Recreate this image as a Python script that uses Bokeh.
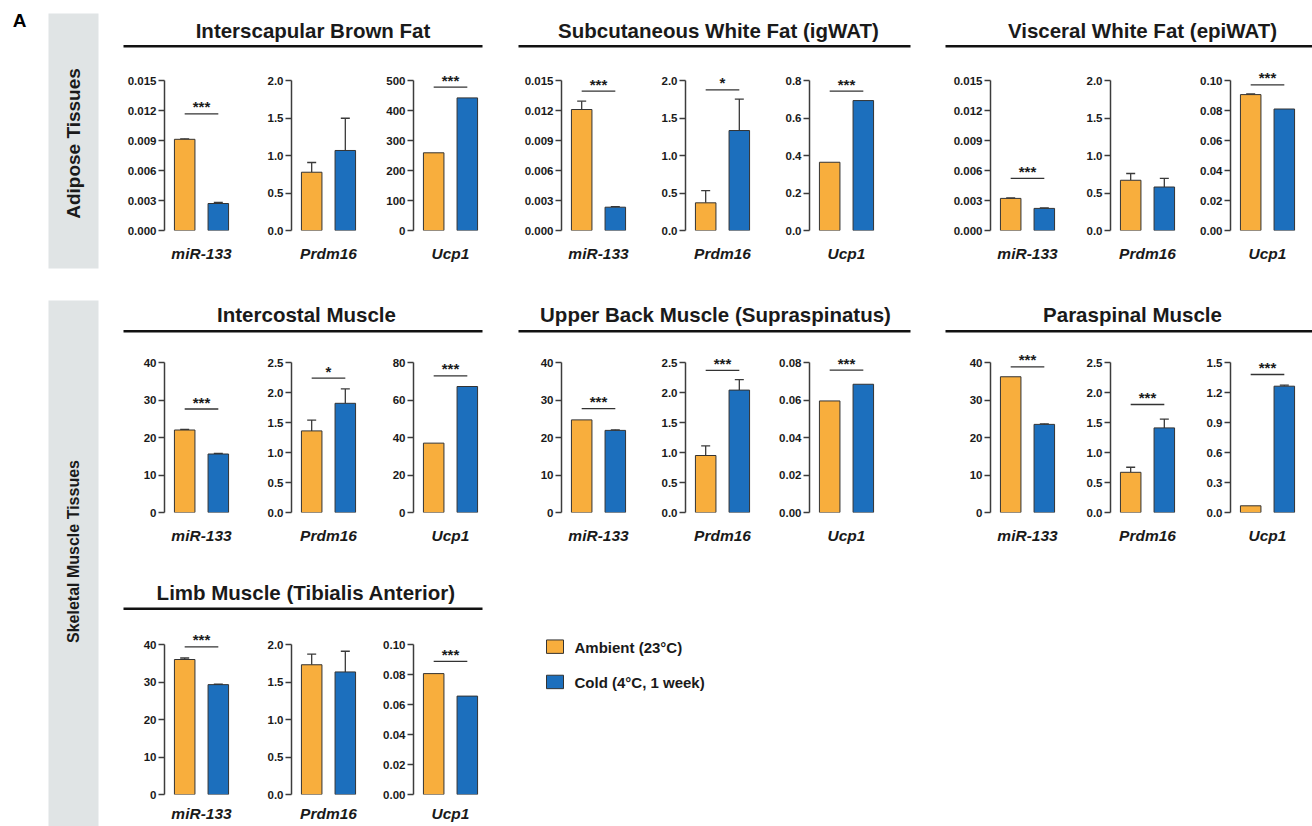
import math
from bokeh.plotting import figure
from bokeh.layouts import row, column
from bokeh.models import Range1d, FixedTicker, PrintfTickFormatter, ColumnDataSource, Whisker, TeeHead
from bokeh.core.properties import value
from bokeh.embed import file_html
from bokeh.resources import INLINE

# ---------------- data ----------------
TISSUES = [
    "Interscapular Brown Fat",
    "Subcutaneous White Fat (igWAT)",
    "Visceral White Fat (epiWAT)",
    "Intercostal Muscle",
    "Upper Back Muscle (Supraspinatus)",
    "Paraspinal Muscle",
    "Limb Muscle (Tibialis Anterior)",
]
GENES = ["miR-133", "Prdm16", "Ucp1"]
SECTIONS = ["Adipose Tissues", "Skeletal Muscle Tissues"]
LEGEND_LABELS = ["Ambient (23°C)", "Cold (4°C, 1 week)"]

AMBIENT_MEAN = [
    [0.00912, 0.777, 259],
    [0.0121, 0.369, 0.364],
    [0.00321, 0.67, 0.0906],
    [22.0, 1.36, 37.0],
    [24.7, 0.95, 0.0595],
    [36.2, 0.67, 0.067],
    [36.0, 1.73, 0.0806],
]
COLD_MEAN = [
    [0.0027, 1.067, 442],
    [0.00233, 1.333, 0.693],
    [0.00221, 0.58, 0.081],
    [15.6, 1.82, 67.2],
    [21.9, 2.04, 0.0684],
    [23.5, 1.41, 1.263],
    [29.3, 1.634, 0.0656],
]
AMBIENT_SEM = [
    [0.00005, 0.13, 0],
    [0.00083, 0.164, 0],
    [0.00004, 0.09, 0.0004],
    [0.15, 0.18, 0],
    [0, 0.16, 0],
    [0, 0.084, 0],
    [0.4, 0.143, 0],
]
COLD_SEM = [
    [0.00012, 0.43, 0],
    [0.00005, 0.42, 0],
    [0.00005, 0.116, 0],
    [0.15, 0.24, 0],
    [0.15, 0.176, 0],
    [0.15, 0.147, 0.01],
    [0.1, 0.276, 0],
]
SIG_Y = [
    [0.01166, None, 478],
    [0.01393, 1.876, 0.743],
    [0.00522, None, 0.0971],
    [27.6, 2.24, 72.9],
    [27.7, 2.37, 0.0759],
    [38.85, 1.80, 1.38],
    [39.35, None, 0.0888],
]
SIG_STARS = [
    ["***", "", "***"],
    ["***", "*", "***"],
    ["***", "", "***"],
    ["***", "*", "***"],
    ["***", "***", "***"],
    ["***", "***", "***"],
    ["***", "", "***"],
]
Y_MAX = [[0.015, 2.0, 500], [0.015, 2.0, 0.8], [0.015, 2.0, 0.10],
         [40, 2.5, 80], [40, 2.5, 0.08], [40, 2.5, 1.5], [40, 2.0, 0.10]]
Y_STEP = [[0.003, 0.5, 100], [0.003, 0.5, 0.2], [0.003, 0.5, 0.02],
          [10, 0.5, 20], [10, 0.5, 0.02], [10, 0.5, 0.3], [10, 0.5, 0.02]]
Y_DECIMALS = [[3, 1, 0], [3, 1, 1], [3, 1, 2],
              [0, 1, 0], [0, 1, 2], [0, 1, 1], [0, 1, 2]]

# ---------------- style / layout ----------------
FONT = "Liberation Sans"
ORANGE = "#F8AE3D"
BLUE = "#1C6FBD"
BAND = "#E0E4E5"
INK = "#1a1a1a"
AXIS = "#3c3c3c"

FRAME_W, FRAME_H = 74, 168
LEFT_B = 46
COL_LEFTS = [118, 245, 367, 515, 639, 763, 944, 1064, 1184]   # page px
RIGHT_EDGE = 1312
PAGE_H = 826


def common(p):
    p.xgrid.visible = False
    p.ygrid.visible = False
    p.outline_line_color = None
    p.background_fill_color = "white"
    p.border_fill_color = "white"


def subplot(g, k, width, bottom_border, standoff):
    top = Y_MAX[g][k]
    step = Y_STEP[g][k]
    p = figure(frame_width=FRAME_W, frame_height=FRAME_H,
               min_border_left=LEFT_B, min_border_right=width - LEFT_B - FRAME_W,
               min_border_top=0, min_border_bottom=bottom_border,
               x_range=Range1d(0.4, 2.6), y_range=Range1d(0, top * 1.12),
               output_backend="svg", toolbar_location=None, tools="")
    common(p)
    src = ColumnDataSource(dict(x=[1, 2], top=[AMBIENT_MEAN[g][k], COLD_MEAN[g][k]],
                                color=[ORANGE, BLUE]))
    p.vbar(x="x", top="top", bottom=0, width=0.61, fill_color="color",
           line_color="#333333", line_width=1, source=src)

    xs, lo, hi = [], [], []
    for x, m, e in ((1, AMBIENT_MEAN[g][k], AMBIENT_SEM[g][k]),
                    (2, COLD_MEAN[g][k], COLD_SEM[g][k])):
        if e > 0:
            xs.append(x); lo.append(m); hi.append(m + e)
    if xs:
        es = ColumnDataSource(dict(base=xs, lower=lo, upper=hi))
        w = Whisker(source=es, base="base", lower="lower", upper="upper",
                    dimension="height", line_color="#3a3a3a", line_width=1.3,
                    upper_head=TeeHead(size=9, line_color="#3a3a3a", line_width=1.3),
                    lower_head=None, level="underlay")
        p.add_layout(w)

    sy = SIG_Y[g][k]
    if sy is not None:
        p.segment(x0=[1], y0=[sy], x1=[2], y1=[sy], line_color="#333333", line_width=1.3)
        p.text(x=[1.5], y=[sy], text=[SIG_STARS[g][k]], text_align="center",
               text_baseline="middle", y_offset=-7, text_font=value(FONT),
               text_font_size="15px", text_font_style="bold", text_color=INK)

    yax = p.yaxis[0]
    n = int(round(top / step))
    yax.ticker = FixedTicker(ticks=[round(i * step, 6) for i in range(n + 1)], minor_ticks=[])
    yax.formatter = PrintfTickFormatter(format="%." + str(Y_DECIMALS[g][k]) + "f")
    yax.bounds = (0, top)
    yax.axis_line_color = AXIS
    yax.axis_line_width = 1.5
    yax.major_tick_line_color = AXIS
    yax.major_tick_line_width = 1.5
    yax.major_tick_out = 6
    yax.major_tick_in = 0
    yax.minor_tick_line_color = None
    yax.major_label_standoff = 2
    yax.major_label_text_font = FONT
    yax.major_label_text_font_size = "11.5px"
    yax.major_label_text_font_style = "bold"
    yax.major_label_text_color = INK

    xax = p.xaxis[0]
    xax.ticker = FixedTicker(ticks=[1.5], minor_ticks=[])
    xax.major_label_overrides = {1.5: GENES[k]}
    xax.axis_line_color = None
    xax.major_tick_line_color = None
    xax.minor_tick_line_color = None
    xax.major_tick_out = 0
    xax.major_tick_in = 0
    xax.major_label_standoff = standoff
    xax.major_label_text_font = FONT
    xax.major_label_text_font_size = "15.5px"
    xax.major_label_text_font_style = "bold italic"
    xax.major_label_text_color = INK
    return p


def title_fig(h, top_page, names, centers, mid_y, line_y, extents):
    p = figure(width=RIGHT_EDGE - 118, height=h,
               x_range=Range1d(118, RIGHT_EDGE), y_range=Range1d(top_page + h, top_page),
               x_axis_type=None, y_axis_type=None, min_border=0,
               output_backend="svg", toolbar_location=None, tools="")
    common(p)
    p.text(x=centers, y=[mid_y] * len(names), text=names, text_align="center",
           text_baseline="middle", text_font=value(FONT), text_font_size="20.5px",
           text_font_style="bold", text_color=INK)
    p.segment(x0=[e[0] for e in extents], y0=[line_y] * len(extents),
              x1=[e[1] for e in extents], y1=[line_y] * len(extents),
              line_color="#111111", line_width=2.6)
    return p


def widths_for(cols):
    ws = []
    for c in cols:
        nxt = COL_LEFTS[c + 1] if c + 1 < len(COL_LEFTS) else RIGHT_EDGE
        ws.append(nxt - COL_LEFTS[c])
    return ws


# ---------------- left band figure ----------------
left = figure(width=118, height=PAGE_H, x_range=Range1d(0, 118), y_range=Range1d(PAGE_H, 0),
              x_axis_type=None, y_axis_type=None, min_border=0,
              output_backend="svg", toolbar_location=None, tools="")
common(left)
left.quad(left=[48, 48], right=[98, 98], top=[13, 300], bottom=[268, PAGE_H],
          fill_color=BAND, line_color=None)
left.text(x=[19], y=[20], text=["A"], text_align="center", text_baseline="middle",
          text_font=value(FONT), text_font_size="19px", text_font_style="bold", text_color="#000")
left.text(x=[73], y=[143], text=[SECTIONS[0]], angle=math.pi / 2, text_align="center",
          text_baseline="middle", text_font=value(FONT), text_font_size="19px",
          text_font_style="bold", text_color=INK)
left.text(x=[73], y=[551], text=[SECTIONS[1]], angle=math.pi / 2, text_align="center",
          text_baseline="middle", text_font=value(FONT), text_font_size="16px",
          text_font_style="bold", text_color=INK)

# ---------------- tiers ----------------
t1 = title_fig(62, 0, TISSUES[0:3], [312.5, 718, 1142], 29.5, 45.7,
               [(123, 482), (518, 910), (945, RIGHT_EDGE)])
w1 = widths_for(range(9))
subs1 = [subplot(g, k, w1[g * 3 + k], 35, 14) for g in range(3) for k in range(3)]

t2 = title_fig(79, 265, TISSUES[3:6], [306, 715, 1132], 313.5, 330.7,
               [(123, 482), (518, 910), (945, RIGHT_EDGE)])
subs2 = [subplot(3 + g, k, w1[g * 3 + k], 35, 14) for g in range(3) for k in range(3)]

t3 = title_fig(79, 547, TISSUES[6:7], [305.7], 592.3, 608.3, [(123, 482)])
w3 = widths_for(range(3))
subs3 = [subplot(6, k, w3[k], 32, 10) for k in range(3)]

# legend figure
leg = figure(width=RIGHT_EDGE - 515, height=200, x_range=Range1d(515, RIGHT_EDGE),
             y_range=Range1d(PAGE_H, 626), x_axis_type=None, y_axis_type=None, min_border=0,
             output_backend="svg", toolbar_location=None, tools="")
common(leg)
leg.quad(left=[546, 546], right=[563, 563], top=[642, 684], bottom=[658, 700],
         fill_color=[ORANGE, BLUE], line_color="#333333", line_width=1)
leg.text(x=[574, 574], y=[651, 693], text=LEGEND_LABELS, text_align="left",
         text_baseline="middle", text_font=value(FONT), text_font_size="15px",
         text_font_style="bold", text_color=INK)

right = column(t1, row(*subs1), t2, row(*subs2), t3, row(*subs3, leg))
layout = row(left, right)

open("out.html", "w").write(file_html(layout, INLINE))
